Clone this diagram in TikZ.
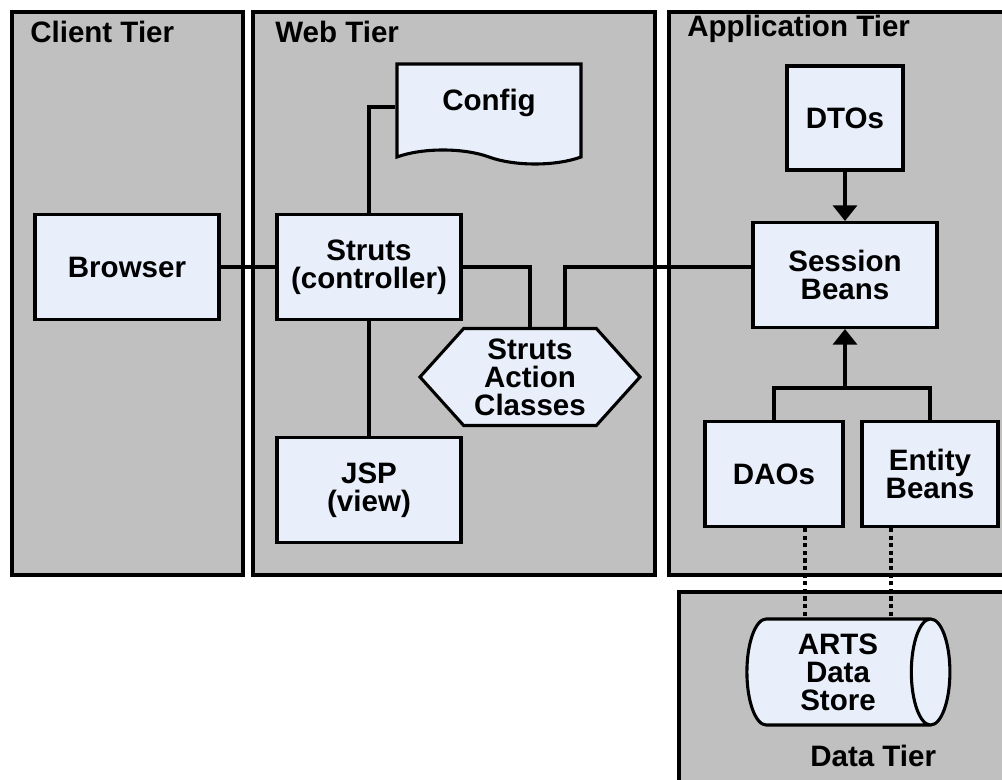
\documentclass[tikz,border=0pt]{standalone}
\usepackage{fontspec}
\setmainfont{Liberation Sans}
\usetikzlibrary{positioning}
\usetikzlibrary{shapes}
\usetikzlibrary{arrows.meta}

\definecolor{tiergray}{RGB}{192,192,192}
\definecolor{boxblue}{RGB}{232,238,250}

\begin{document}
\begin{tikzpicture}[x=0.025cm, y=-0.025cm]

\def\Px{0.025cm}
\def\BoxWidth{184*\Px}
\def\BoxHeight{105*\Px}

% Styles
\tikzstyle{tier} =
	[draw, line width=2.6pt, fill=tiergray, inner sep=0pt]

\tikzstyle{tier label} =
	[font=\bfseries\fontsize{21}{20}\selectfont, anchor=base west, inner sep=0pt]

\tikzstyle{box} =
	[draw, line width=2.2pt, fill=boxblue, align=center, inner sep=0pt,
	 font=\bfseries\fontsize{21}{20}\selectfont,
	 minimum width=\BoxWidth, minimum height=\BoxHeight]

\useasboundingbox (0,0) rectangle (1002,780);
\clip (0,0) rectangle (1002,780);

% Tiers

\node (ClientTier) [tier, minimum width=231*\Px, minimum height=563*\Px] at (127.5,293.5) {};
\node (WebTier) [tier, minimum width=402*\Px, minimum height=563*\Px] at (454,293.5) {};
\node (AppTier) [tier, minimum width=346*\Px, minimum height=563*\Px] at (842,293.5) {};
\node (DataTier) [tier, minimum width=336*\Px, minimum height=208*\Px] at (847,696) {};

\node (ClientLabel) [tier label] at (30,43) {Client Tier};
\node (WebLabel) [tier label] at (275,43) {Web Tier};
\node (AppLabel) [tier label] at (687,37) {Application Tier};
\node (DataLabel) [tier label] at (810,767) {Data Tier};

% Modules

\node (Browser) [box] at (127,267) {Browser};
\node (Struts) [box] at (369,267) {Struts\\(controller)};
\node (JSP) [box] at (369,490) {JSP\\(view)};
\node (Config) [box, tape, tape bend top=none, tape bend bottom=out and in,
	tape bend height=14*\Px, minimum height=100*\Px] at (489,107) {\raisebox{10pt}{Config}};
\node (Actions) [box, signal, signal to=east and west, signal pointer angle=96,
	minimum width=220*\Px, minimum height=97*\Px] at (530,377) {Struts\\Action\\Classes};

\node (DTOs) [box, minimum width=116*\Px, minimum height=104*\Px] at (845,118) {DTOs};
\node (Session) [box] at (845,275) {Session\\Beans};
\node (DAOs) [box, minimum width=138*\Px] at (774,474) {DAOs};
\node (Entity) [box, minimum width=136*\Px] at (930,474) {Entity\\Beans};
\node (Store) [box, cylinder, aspect=0.5, minimum width=106*\Px,
	minimum height=203*\Px] at (838,672) {ARTS\\Data\\Store};

% Edges

\tikzstyle{link} =
	[line width=2.2pt]

\tikzstyle{feed} =
	[link, -{Triangle[width=17pt,length=11pt]}]

\tikzstyle{store link} =
	[line width=2.8pt, dash pattern=on 3pt off 2.4pt]

\coordinate (Join) at (Session.south |- 0,388);
\coordinate (DaoFoot) at ([xshift=31*\Px]DAOs.south);
\coordinate (EntityFoot) at ([xshift=-39*\Px]Entity.south);

\draw[link] (Browser) -- (Struts);
\draw[link] (Struts.north) |- (Config.west);
\draw[link] (Struts) -- (JSP);
\draw[link] (Struts.east) -| (Actions.north);
\draw[link] ([xshift=35*\Px]Actions.north) |- (Struts -| Session.west);

\draw[feed] (DTOs) -- (Session);
\draw[link] (DAOs.north) |- (Join) -| (Entity.north);
\draw[feed] (Join) -- (Session.south);

\draw[store link] (DaoFoot) -- (DaoFoot |- Store.north);
\draw[store link] (EntityFoot) -- (EntityFoot |- Store.north);

\end{tikzpicture}
\end{document}
